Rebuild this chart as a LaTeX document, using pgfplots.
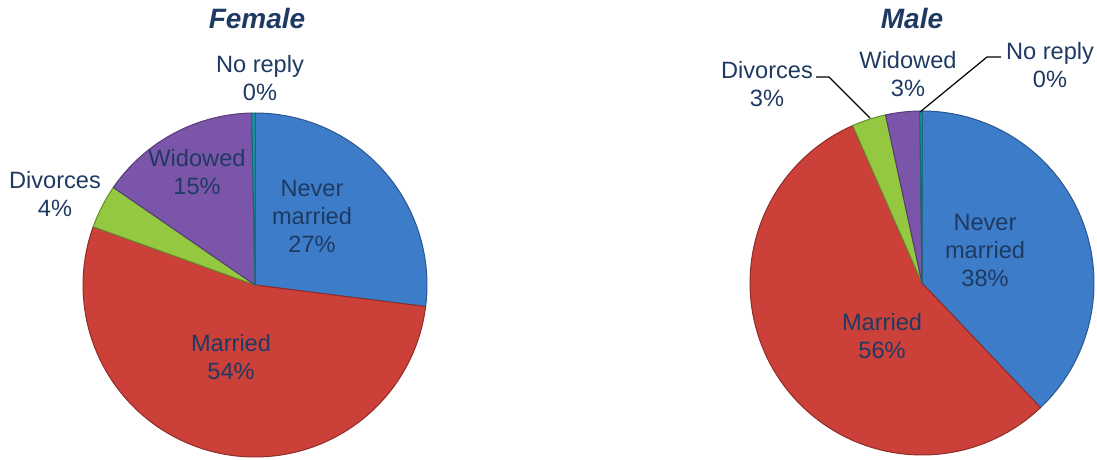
\documentclass[border=0pt]{standalone}
\usepackage{fontspec}
\setmainfont{Liberation Sans}
\usepackage{pgfplots}
\pgfplotsset{compat=1.18}
\usepgfplotslibrary{polar}

\definecolor{pieblue}{HTML}{3D7CC9}
\definecolor{piered}{HTML}{CC403A}
\definecolor{piegreen}{HTML}{93C840}
\definecolor{piepurple}{HTML}{7B55A9}
\definecolor{pieteal}{HTML}{1B98A8}
\definecolor{txt}{HTML}{1F3A62}

% shares in percent, clockwise from 12 o'clock
\pgfplotstableread{
group share color
NeverMarried 27.0 pieblue
Married 53.5 piered
Divorces 4.1 piegreen
Widowed 15.1 piepurple
NoReply 0.3 pieteal
}\femaletab
\pgfplotstableread{
group share color
NeverMarried 37.9 pieblue
Married 55.5 piered
Divorces 3.2 piegreen
Widowed 3.2 piepurple
NoReply 0.2 pieteal
}\maletab

\newcommand\pieslices[1]{%
  \xdef\pieangle{90}%
  \pgfplotstablegetrowsof{#1}%
  \pgfmathtruncatemacro\lastrow{\pgfplotsretval-1}%
  \pgfplotsforeachungrouped \r in {0,...,\lastrow}{%
    \pgfplotstablegetelem{\r}{share}\of{#1}\let\sh\pgfplotsretval
    \pgfplotstablegetelem{\r}{color}\of{#1}\let\co\pgfplotsretval
    \pgfmathsetmacro\sliceend{\pieangle-3.6*\sh}%
    \edef\doslice{\noexpand\addplot[fill=\co, draw=\co!70!black, line width=0.5pt,
      domain=\sliceend:\pieangle, samples=90, no markers] {1} -- (0,0) -- cycle;}%
    \doslice
    \xdef\pieangle{\sliceend}%
  }%
}

\pgfplotsset{pie/.style={hide axis, scale only axis, width=172pt, height=172pt,
  ymin=0, ymax=1, clip=false, anchor=center}}

\begin{document}
\begin{tikzpicture}[x=0.5pt, y=0.5pt]
\path (0,0) rectangle (1097,-460);
\coordinate (fc) at (255,-285);
\coordinate (mc) at (922,-283);

\begin{polaraxis}[pie, at={(fc)}]
\pieslices{\femaletab}
\end{polaraxis}

\begin{polaraxis}[pie, at={(mc)}]
\pieslices{\maletab}
\end{polaraxis}

\tikzset{lab/.style={text=txt, align=center, font=\fontsize{11.8}{14}\selectfont, inner sep=0pt}}
\node[text=txt, font=\fontsize{14}{16}\selectfont\bfseries\itshape] at (257,-18) {Female};
\node[text=txt, font=\fontsize{14}{16}\selectfont\bfseries\itshape] at (912,-18) {Male};

% female labels
\node[lab] at (260,-78) {No reply\\0\%};
\node[lab] at (55,-194) {Divorces\\4\%};
\node[lab] at (197,-172) {Widowed\\15\%};
\node[lab] at (312,-216) {Never\\married\\27\%};
\node[lab] at (231,-357) {Married\\54\%};

% male labels
\node[lab] at (767,-84) {Divorces\\3\%};
\node[lab] at (908,-74) {Widowed\\3\%};
\node[lab] at (1050,-65) {No reply\\0\%};
\node[lab] at (985,-250) {Never\\married\\38\%};
\node[lab] at (882,-336) {Married\\56\%};

\draw[black, line width=0.6pt] (816,-77) -- (829,-77) -- (870,-118);
\draw[black, line width=0.6pt] (1001,-57) -- (987,-57) -- (920,-112);
\end{tikzpicture}
\end{document}
